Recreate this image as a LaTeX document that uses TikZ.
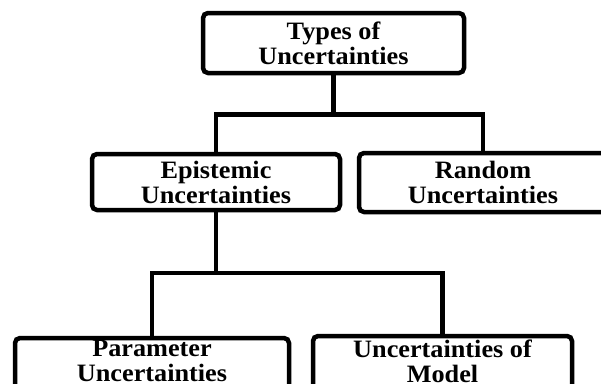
\documentclass[tikz,border=0pt]{standalone}
\usepackage{fontspec}
\setmainfont{Liberation Serif}[FakeStretch=1.05]
\begin{document}
\begin{tikzpicture}[x=1pt,y=-1pt,
  box/.style={draw=black, line width=4.5pt, rounded corners=5pt, inner sep=0pt, outer sep=0pt,
    align=center, font=\fontsize{25}{25}\selectfont\bfseries},
  conn/.style={draw=black, line width=4.5pt}]
\useasboundingbox (0,0) rectangle (601,383);
\clip (0,0) rectangle (601,383);
\node[box, minimum width=261pt, minimum height=60pt] (top) at (333.5,43) {Types of\\Uncertainties};
\node[box, minimum width=248pt, minimum height=56pt] (epi) at (216,182) {Epistemic\\Uncertainties};
\node[box, minimum width=248pt, minimum height=59pt] (ran) at (483,182.5) {Random\\Uncertainties};
\node[box, minimum width=274pt, minimum height=70pt] (par) at (152,373) {Parameter\\Uncertainties\\\mbox{}};
\node[box, minimum width=259pt, minimum height=76pt] (mod) at (442.5,374) {Uncertainties of\\Model\\\mbox{}};
\draw[conn] (top.south) -- ++(0,41.5) coordinate (j1);
\draw[conn] (epi.north) |- (j1) -| (ran.north);
\draw[conn] (epi.south) -- ++(0,63) coordinate (j2);
\draw[conn] (par.north) |- (j2) -| (mod.north);
\end{tikzpicture}
\end{document}
